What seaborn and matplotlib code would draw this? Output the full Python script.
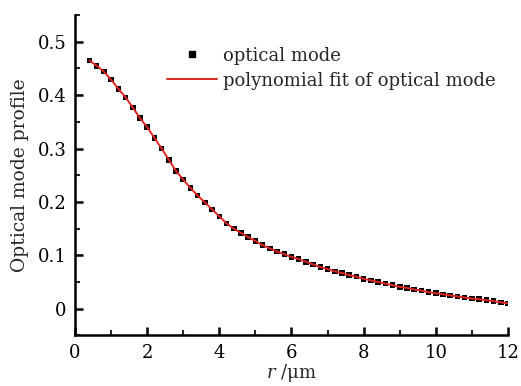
import numpy as np
import pandas as pd
import matplotlib
matplotlib.use("Agg")
import matplotlib.pyplot as plt
import seaborn as sns
from matplotlib.ticker import MultipleLocator
from matplotlib.lines import Line2D

r_um = [0.4, 0.6, 0.8, 1.0, 1.2, 1.4, 1.6, 1.8, 2.0, 2.2, 2.4, 2.6, 2.8, 3.0,
        3.2, 3.4, 3.6, 3.8, 4.0, 4.2, 4.4, 4.6, 4.8, 5.0, 5.2, 5.4, 5.6, 5.8,
        6.0, 6.2, 6.4, 6.6, 6.8, 7.0, 7.2, 7.4, 7.6, 7.8, 8.0, 8.2, 8.4, 8.6,
        8.8, 9.0, 9.2, 9.4, 9.6, 9.8, 10.0, 10.2, 10.4, 10.6, 10.8, 11.0, 11.2,
        11.4, 11.6, 11.8, 12.0]
mode_profile = [0.465, 0.455, 0.444, 0.429, 0.412, 0.396, 0.377, 0.357, 0.340,
                0.320, 0.300, 0.279, 0.258, 0.242, 0.226, 0.212, 0.199, 0.186,
                0.173, 0.160, 0.150, 0.142, 0.134, 0.127, 0.119, 0.113, 0.107,
                0.102, 0.097, 0.093, 0.088, 0.083, 0.078, 0.074, 0.070, 0.067,
                0.063, 0.060, 0.056, 0.053, 0.050, 0.047, 0.044, 0.041, 0.039,
                0.036, 0.034, 0.031, 0.029, 0.027, 0.025, 0.023, 0.021, 0.019,
                0.018, 0.016, 0.014, 0.012, 0.010]
x_ticks = [0, 2, 4, 6, 8, 10, 12]
y_ticks = [0, 0.1, 0.2, 0.3, 0.4, 0.5]
y_tick_labels = ["0", "0.1", "0.2", "0.3", "0.4", "0.5"]
series_names = ["optical mode", "polynomial fit of optical mode"]

df = pd.DataFrame({"r": r_um, "profile": mode_profile})

sns.set_theme(style="ticks")
plt.rcParams['font.family'] = ['DejaVu Serif', 'DejaVu Sans']
plt.rcParams['mathtext.fontset'] = 'dejavuserif'

fig = plt.figure(figsize=(5.21, 3.86), dpi=100)
ax = fig.add_axes([0.144, 0.131, 0.831, 0.83])

sns.lineplot(data=df, x="r", y="profile", ax=ax, color="#e0261f", lw=1.4,
             zorder=3)
sns.scatterplot(data=df, x="r", y="profile", ax=ax, marker="s", s=16,
                color="black", edgecolor="none", zorder=2)

ax.set_xlim(0, 12)
ax.set_ylim(-0.05, 0.55)
ax.set_xticks(x_ticks)
ax.set_xticklabels([str(t) for t in x_ticks])
ax.set_yticks(y_ticks)
ax.set_yticklabels(y_tick_labels)
ax.xaxis.set_minor_locator(MultipleLocator(1))
ax.yaxis.set_minor_locator(MultipleLocator(0.05))
ax.tick_params(which="major", direction="in", length=6, width=1.8,
               labelsize=13, colors="black", pad=6)
ax.tick_params(which="minor", direction="in", length=3.5, width=1.5)
for s in ["top", "right"]:
    ax.spines[s].set_visible(False)
for s in ["left", "bottom"]:
    ax.spines[s].set_linewidth(1.8)
    ax.spines[s].set_color("black")

ax.set_xlabel(r"$r$ /μm", fontsize=13, labelpad=0.5)
ax.set_ylabel("Optical mode profile", fontsize=13.5, labelpad=6)

handles = [
    Line2D([], [], marker="s", ls="none", color="black", markersize=4),
    Line2D([], [], color="#e0261f", lw=1.4),
]
ax.legend(handles, series_names, loc="upper left",
          bbox_to_anchor=(0.307, 0.898), bbox_transform=fig.transFigure,
          frameon=False, fontsize=13,
          handlelength=2.75, handletextpad=0.33, labelspacing=0.4,
          borderaxespad=0, borderpad=0.4)

fig.savefig("out.png", dpi=100)
